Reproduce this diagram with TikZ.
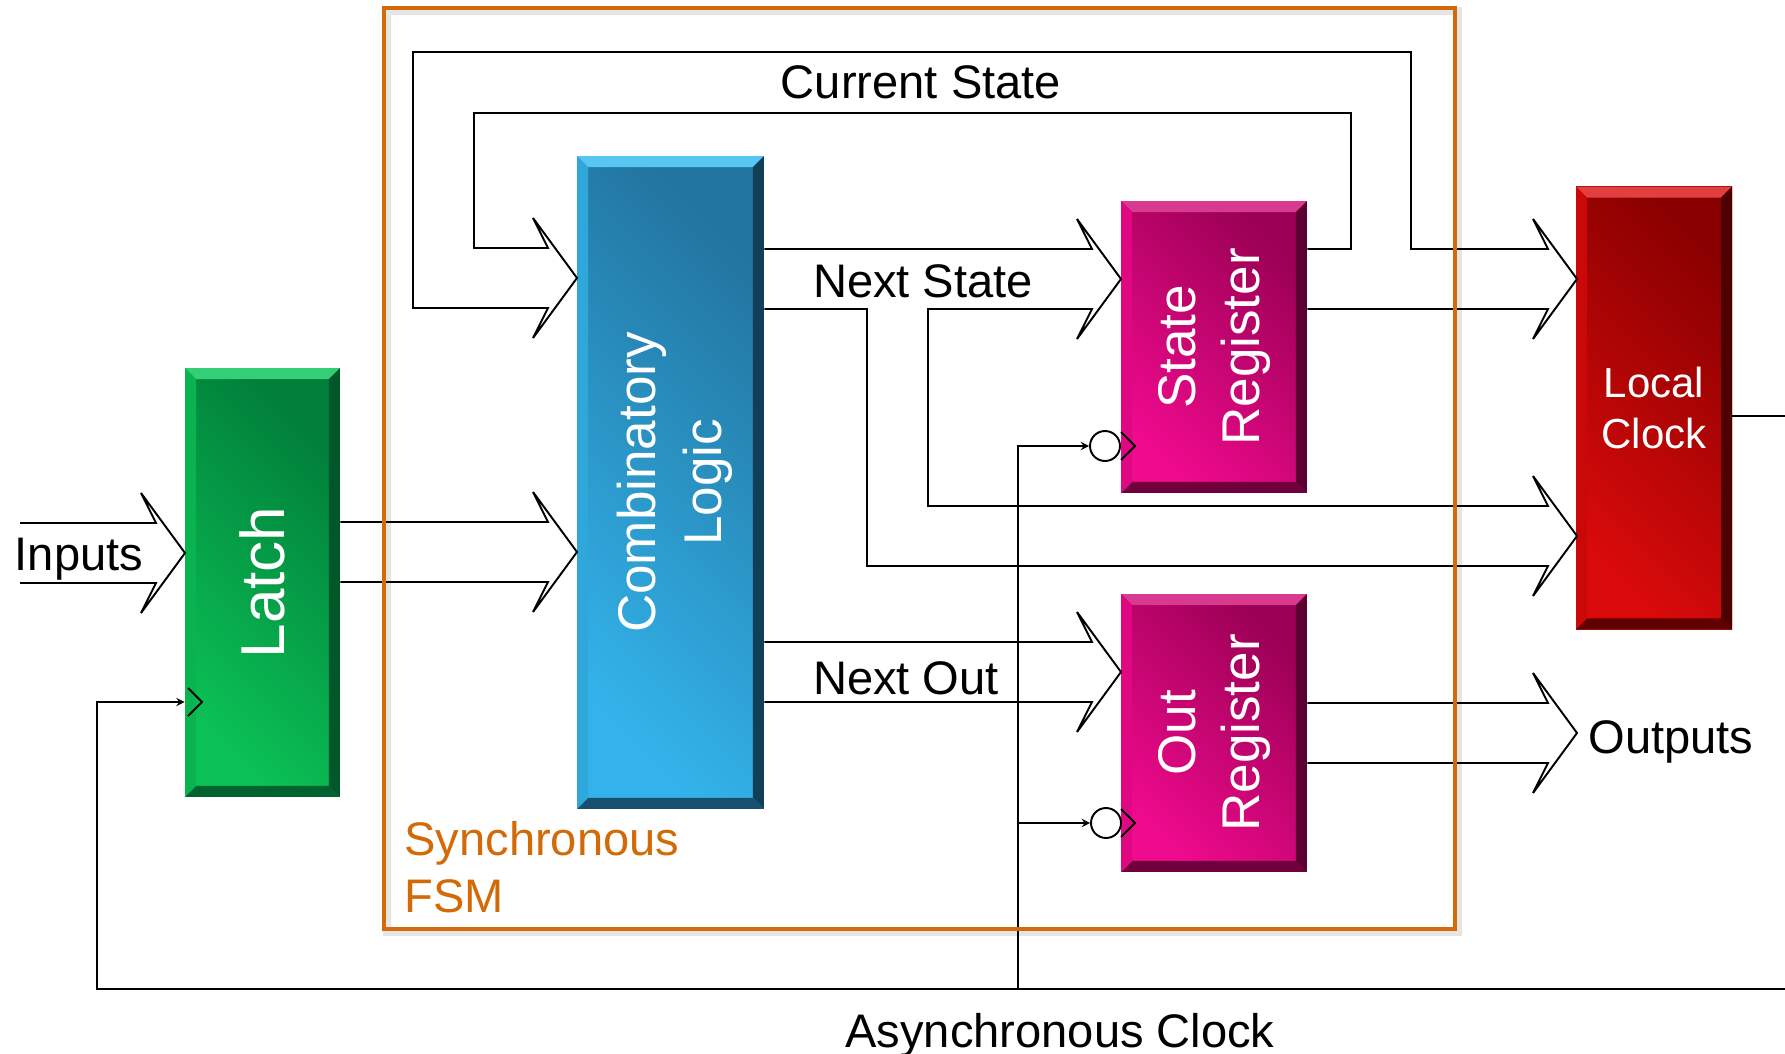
\documentclass[tikz,border=0pt]{standalone}
\usepackage{fontspec}
\setmainfont{Liberation Sans}
\usepackage{xcolor}
\usetikzlibrary{arrows}
\usetikzlibrary{calc, math}

\definecolor{fsmorange}{RGB}{210,106,8}
\definecolor{grnA}{HTML}{0BC155}
\definecolor{grnB}{HTML}{007E3A}
\definecolor{grnT}{HTML}{34CE76}
\definecolor{grnE}{HTML}{00582A}
\definecolor{bluA}{HTML}{33B3EA}
\definecolor{bluB}{HTML}{2275A0}
\definecolor{bluT}{HTML}{58C6F2}
\definecolor{bluE}{HTML}{123F58}
\definecolor{magA}{HTML}{F00A8E}
\definecolor{magB}{HTML}{9A0054}
\definecolor{magT}{HTML}{D83A90}
\definecolor{magE}{HTML}{5C0030}
\definecolor{redA}{HTML}{DA0A0A}
\definecolor{redB}{HTML}{8A0000}
\definecolor{redT}{HTML}{E24040}
\definecolor{redE}{HTML}{4E0000}

\tikzset{
  wire/.style={line width=1.1pt},
  head/.style={insert path={-- ++(-15,-30) -- ++(44,60) -- ++(-44,60) -- ++(15,-30)}},
  blk/.style n args={4}{rectangle, inner sep=0pt, bottom color=#1, top color=#2, shading angle=-45,
    path picture={
      \fill[#3] (path picture bounding box.north west) -- (path picture bounding box.north east)
        -- ([shift={(-\bev,\bev)}]path picture bounding box.north east)
        -- ([shift={(\bev,\bev)}]path picture bounding box.north west) -- cycle;
      \fill[#4] (path picture bounding box.north east) -- (path picture bounding box.south east)
        -- ([shift={(-\bev,-\bev)}]path picture bounding box.south east)
        -- ([shift={(-\bev,\bev)}]path picture bounding box.north east) -- cycle;
      \fill[#4!70!#2] (path picture bounding box.south west) -- (path picture bounding box.south east)
        -- ([shift={(-\bev,-\bev)}]path picture bounding box.south east)
        -- ([shift={(\bev,-\bev)}]path picture bounding box.south west) -- cycle;
      \fill[#1!80!#2] (path picture bounding box.north west) -- (path picture bounding box.south west)
        -- ([shift={(\bev,-\bev)}]path picture bounding box.south west)
        -- ([shift={(\bev,\bev)}]path picture bounding box.north west) -- cycle;
    }},
  boxtxt/.style={white, inner sep=0pt, align=center},
  lbl/.style={inner sep=0pt, font=\fontsize{26.8}{32}\selectfont},
  bubble/.style={circle, draw, fill=white, line width=1.1pt, minimum size=0.6cm, inner sep=0pt},
}

\begin{document}
\begin{tikzpicture}[x=0.02cm, y=-0.02cm]
\tikzmath{
\bev=11;
}
\useasboundingbox (0,0) rectangle (1785,1054);

% frame shadow
\draw[black!10, line width=4pt] (387,11) rectangle (1458,932);

% blocks
\node[blk={grnA}{grnB}{grnT}{grnE}, minimum width=3.1cm, minimum height=8.58cm] (latch) at (262.5,582.5) {};
\node[blk={bluA}{bluB}{bluT}{bluE}, minimum width=3.74cm, minimum height=13.06cm] (comb) at (670.5,482.5) {};
\node[blk={magA}{magB}{magT}{magE}, minimum width=3.72cm, minimum height=5.84cm] (sreg) at (1214,347) {};
\node[blk={magA}{magB}{magT}{magE}, minimum width=3.72cm, minimum height=5.56cm] (oreg) at (1214,733) {};
\node[blk={redA}{redB}{redT}{redE}, minimum width=3.12cm, minimum height=8.86cm] (lclk) at (1654,408) {};

\node[boxtxt, rotate=90, font=\fontsize{35.3}{40}\selectfont] (latch-t) at (latch) {Latch};
\node[boxtxt, rotate=90, font=\fontsize{30.2}{37.5}\selectfont] (comb-t) at ([xshift=0.08cm]comb.center) {Combinatory\\Logic};
\node[boxtxt, rotate=90, font=\fontsize{30.2}{36.4}\selectfont] (sreg-t) at (sreg) {State\\Register};
\node[boxtxt, rotate=90, font=\fontsize{30.2}{36.4}\selectfont] (oreg-t) at (oreg) {Out\\Register};
\node[boxtxt, font=\fontsize{23.9}{29}\selectfont] (lclk-t) at (lclk) {Local\\Clock};

% buses
\draw[wire] (20,523) -- (156,523) [head] -- (20,583);
\draw[wire] (latch.east |- 0,522) -- (548,522) [head] -- (latch.east |- 0,582);
\draw[wire] (sreg.east |- 0,249) -- (1351,249) -- (1351,113) -- (474,113) -- (474,248) -- (548,248) [head]
  -- (413,308) -- (413,52) -- (1411,52) -- (1411,249) -- (1548,249) [head] -- (sreg.east |- 0,309);
\draw[wire] (comb.east |- 0,249) -- (1092,249) [head] -- (928,309) -- (928,506) -- (1548,506) [head]
  -- (867,566) -- (867,309) -- (comb.east |- 0,309);
\draw[wire] (comb.east |- 0,642) -- (1092,642) [head] -- (comb.east |- 0,702);
\draw[wire] (oreg.east |- 0,703) -- (1548,703) [head] -- (oreg.east |- 0,763);

% clocks
\node[bubble] (sbub) at (1105,446) {};
\node[bubble] (obub) at (1106,823) {};
\draw[wire, -stealth] (1785,989) -- (97,989) -- (97,702) -- (latch.west |- 0,702);
\draw[wire, -stealth] (1018,989) -- (1018,446) -- (sbub.west);
\draw[wire, -stealth] (1018,823) -- (obub.west);
\draw[wire] (188,688) -- (202,702) -- (188,716);
\draw[wire] (1121,432) -- (1135,446) -- (1121,460);
\draw[wire] (1121,809) -- (1135,823) -- (1121,837);
\draw[wire] (lclk.east |- 0,416) -- (1785,416);

% labels
\node[lbl, anchor=base] (inp) at (79,570) {Inputs};
\node[lbl, anchor=base] (cur) at (921,99) {Current State};
\node[lbl, anchor=base] (nxs) at (923,297) {Next State};
\node[lbl, anchor=base] (nxo) at (906,694) {Next Out};
\node[lbl, anchor=base west] (outp) at (1588,753) {Outputs};
\node[lbl, anchor=base] (aclk) at (1060,1047) {Asynchronous Clock};

% synchronous FSM frame
\draw[fsmorange, line width=2.6pt] (384,8) rectangle (1455,929);
\node[lbl, fsmorange, anchor=base west] (fsm1) at (404,855) {Synchronous};
\node[lbl, fsmorange, anchor=base west] (fsm2) at (404,912) {FSM};
\end{tikzpicture}
\end{document}
